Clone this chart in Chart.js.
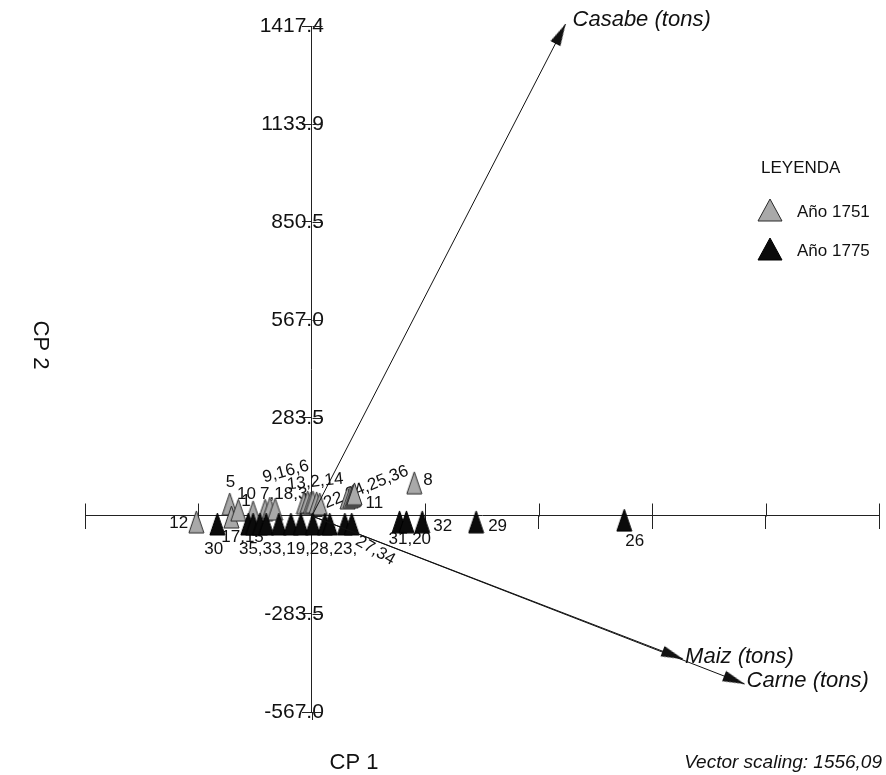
<!DOCTYPE html>
<html>
<head>
<meta charset="utf-8">
<script src="https://cdn.jsdelivr.net/npm/chart.js@4.4.1/dist/chart.umd.min.js"></script>
<style>
  body { margin: 0; background: #fff; }
  #cp { display: block; }
</style>
</head>
<body>
<canvas id="cp" width="886" height="775" style="width:886px;height:775px"></canvas>
<script>
const FONT = '"Liberation Sans", Arial, Helvetica, sans-serif'

// CP 2 axis ticks (0 has no label)
const yTicks = [-567.0, -283.5, 0, 283.5, 567.0, 850.5, 1133.9, 1417.4]

// Año 1751
const ids1751 = ['12', '5', '', '1', '10', '7', '18', '3', '9', '16', '6', '13', '2', '14', '22', '24', '25', '36', '11', '8']
const x1751 = [-336, -239, -234, -214, -171, -136, -122, -107, -23, -12, -3, 3, 14, 23, 104, 113, 119, 122, 124, 298]
const y1751 = [-17, 35, -3, 17, 12, 17, 23, 20, 38, 41, 38, 41, 38, 35, 52, 55, 58, 61, 64, 96]

// Año 1775
const ids1775 = ['30', '17', '15', '35', '33', '19', '28', '23', '', '', '', '27', '34', '31', '20', '32', '29', '26']
const x1775 = [-275, -185, -171, -151, -133, -96, -61, -32, 3, 38, 52, 96, 116, 255, 275, 321, 478, 909]
const y1775 = [-23, -23, -23, -23, -23, -23, -23, -23, -23, -23, -23, -23, -23, -17, -17, -17, -17, -12]

// vectors
const vecNames = ['Casabe (tons)', 'Maiz (tons)', 'Carne (tons)']
const vecX = [738, 1080, 1259]
const vecY = [1423, -414, -486]

// where the point labels go (pixel offset from a point, rotation in degrees)
const labelPlaces = [
  { ds: 0, i: 0, text: '12', dx: -27, dy: 1, rot: 0 },
  { ds: 0, i: 1, text: '5', dx: -4, dy: -22, rot: 0 },
  { ds: 0, i: 3, text: '1', dx: 3, dy: -9, rot: 0 },
  { ds: 0, i: 4, text: '10', dx: -16, dy: -18, rot: 0 },
  { ds: 0, i: 5, text: '7,18,3', dx: -5, dy: -16, rot: 0 },
  { ds: 0, i: 8, text: '9,16,6', dx: -41, dy: -25, rot: -15 },
  { ds: 0, i: 11, text: '13,2,14', dx: -26, dy: -17, rot: -6 },
  { ds: 0, i: 14, text: '22,24,25,36', dx: -23, dy: 6, rot: -22 },
  { ds: 0, i: 18, text: '11', dx: 11, dy: 9, rot: 0 },
  { ds: 0, i: 19, text: '8', dx: 9, dy: -2, rot: 0 },
  { ds: 1, i: 0, text: '30', dx: -13, dy: 25, rot: 0 },
  { ds: 1, i: 1, text: '17,15', dx: -27, dy: 13, rot: 0 },
  { ds: 1, i: 3, text: '35,33,19,28,23,', dx: -21, dy: 25, rot: 0 },
  { ds: 1, i: 11, text: '27,34', dx: 12, dy: 16, rot: 30 },
  { ds: 1, i: 13, text: '31,20', dx: -11, dy: 17, rot: 0 },
  { ds: 1, i: 15, text: '32', dx: 11, dy: 4, rot: 0 },
  { ds: 1, i: 16, text: '29', dx: 12, dy: 4, rot: 0 },
  { ds: 1, i: 17, text: '26', dx: 1, dy: 21, rot: 0 }
]

function triangleImage(w, h, fill, stroke) {
  const c = document.createElement('canvas')
  c.width = w + 2
  c.height = h + 2
  const g = c.getContext('2d')
  g.beginPath()
  g.moveTo(1 + w / 2, 1)
  g.lineTo(w + 1, h + 1)
  g.lineTo(1, h + 1)
  g.closePath()
  g.fillStyle = fill
  g.fill()
  g.strokeStyle = stroke
  g.lineWidth = 1
  g.stroke()
  return c
}

// arrow head with its tip in the middle of the image, pointing right
function arrowImage() {
  const c = document.createElement('canvas')
  c.width = 46
  c.height = 12
  const g = c.getContext('2d')
  g.beginPath()
  g.moveTo(23, 6)
  g.lineTo(1, 0.5)
  g.lineTo(1, 11.5)
  g.closePath()
  g.fillStyle = '#111'
  g.fill()
  return c
}

const GRAY = '#a9a9a9'
const BLACK = '#0b0b0b'
const grayTri = triangleImage(15, 22, GRAY, '#2a2a2a')
const blackTri = triangleImage(15, 22, BLACK, '#000')
const grayLeg = triangleImage(24, 22, GRAY, '#2a2a2a')
const blackLeg = triangleImage(24, 22, BLACK, '#000')
const arrowTip = arrowImage()

const toPoints = (xs, ys) => xs.map((x, i) => ({ x: x, y: ys[i] }))

const vectorSets = vecNames.map((name, i) => ({
  label: name,
  data: [{ x: 0, y: 0 }, { x: vecX[i], y: vecY[i] }],
  showLine: true,
  borderColor: '#111',
  borderWidth: 1,
  pointRadius: [0, 5],
  pointStyle: arrowTip,
  pointRotation: ctx => {
    const xs = ctx.chart.scales.x
    const ys = ctx.chart.scales.y
    if (!xs || !ys) return 0
    const dx = xs.getPixelForValue(vecX[i]) - xs.getPixelForValue(0)
    const dy = ys.getPixelForValue(vecY[i]) - ys.getPixelForValue(0)
    return Math.atan2(dy, dx) * 180 / Math.PI
  },
  clip: false,
  order: -1
}))

function text(ctx, str, x, y, font, align, rot) {
  ctx.save()
  ctx.translate(x, y)
  if (rot) ctx.rotate(rot * Math.PI / 180)
  ctx.font = font
  ctx.fillStyle = '#111'
  ctx.textAlign = align || 'left'
  ctx.textBaseline = 'middle'
  ctx.fillText(str, 0, 0)
  ctx.restore()
}

const crossTicks = {
  id: 'crossTicks',
  beforeDatasetsDraw(chart) {
    const { ctx, scales: { x, y } } = chart
    const x0 = Math.round(x.getPixelForValue(0)) + 0.5
    const y0 = Math.round(y.getPixelForValue(0)) + 0.5
    ctx.save()
    ctx.strokeStyle = '#222'
    ctx.lineWidth = 1
    ctx.beginPath()
    x.ticks.forEach(t => {
      const px = Math.round(x.getPixelForValue(t.value)) + 0.5
      ctx.moveTo(px, y0 - 13)
      ctx.lineTo(px, y0)
    })
    y.ticks.forEach(t => {
      const py = Math.round(y.getPixelForValue(t.value)) + 0.5
      ctx.moveTo(x0, py)
      ctx.lineTo(x0 + 10, py)
    })
    // the CP 2 axis runs a little past its last tick
    ctx.moveTo(x0, chart.chartArea.bottom)
    ctx.lineTo(x0, chart.chartArea.bottom + 8)
    ctx.stroke()
    ctx.restore()

    // point labels sit under the triangles
    labelPlaces.forEach(l => {
      const p = chart.getDatasetMeta(l.ds).data[l.i]
      text(ctx, l.text, p.x + l.dx, p.y + l.dy, '17px ' + FONT, 'left', l.rot)
    })
  }
}

const annotations = {
  id: 'annotations',
  afterDraw(chart) {
    const ctx = chart.ctx
    // vector names next to the arrow heads
    const offs = [[7, -4], [2, -2], [2, -3]]
    vecNames.forEach((name, i) => {
      const p = chart.getDatasetMeta(2 + i).data[1]
      text(ctx, name, p.x + offs[i][0], p.y + offs[i][1], 'italic 22px ' + FONT, 'left')
    })
    // axis titles
    text(ctx, 'CP 1', 354, 763, '22px ' + FONT, 'center')
    text(ctx, 'CP 2', 40, 345, '22px ' + FONT, 'center', 90)
    text(ctx, 'Vector scaling: 1556,09', 882, 763, 'italic 19px ' + FONT, 'right')
    // legend
    text(ctx, 'LEYENDA', 761, 168, '17px ' + FONT, 'left')
    const items = [[grayLeg, chart.data.datasets[0].label, 210], [blackLeg, chart.data.datasets[1].label, 249]]
    items.forEach(([img, lab, yy]) => {
      ctx.drawImage(img, 770 - img.width / 2, yy - img.height / 2)
      text(ctx, lab, 797, yy + 2, '17px ' + FONT, 'left')
    })
  }
}

const setYTicks = scale => { scale.ticks = yTicks.map(v => ({ value: v })) }

Chart.defaults.font.family = FONT

new Chart(document.getElementById('cp'), {
  type: 'scatter',
  data: {
    datasets: [
      {
        label: 'Año 1751',
        data: toPoints(x1751, y1751),
        pointStyle: grayTri,
        pointRadius: 6,
        order: 1
      },
      {
        label: 'Año 1775',
        data: toPoints(x1775, y1775),
        pointStyle: blackTri,
        pointRadius: 6,
        order: 0
      },
      ...vectorSets
    ]
  },
  options: {
    responsive: false,
    animation: false,
    events: [],
    layout: { padding: { left: 85, right: 3, top: 26, bottom: 63 } },
    scales: {
      x: {
        type: 'linear',
        min: -660,
        max: 1650,
        position: { y: 0 },
        ticks: { display: false, stepSize: 330 },
        grid: { drawOnChartArea: false, drawTicks: true, tickLength: 13, color: '#222' },
        border: { display: true, color: '#222', width: 1 }
      },
      y: {
        type: 'linear',
        min: -567,
        max: 1417.4,
        position: { x: 0 },
        afterBuildTicks: setYTicks,
        ticks: { display: false },
        grid: { drawOnChartArea: false, drawTicks: true, tickLength: 9, color: '#222' },
        border: { display: true, color: '#222', width: 1 }
      },
      yLab: {
        type: 'linear',
        min: -567,
        max: 1417.4,
        position: { x: 35 },
        afterBuildTicks: setYTicks,
        ticks: {
          autoSkip: false,
          color: '#111',
          font: { size: 21 },
          callback: v => v === 0 ? '' : v.toFixed(1)
        },
        grid: { display: false },
        border: { display: false }
      }
    },
    plugins: {
      legend: { display: false },
      tooltip: { enabled: false }
    }
  },
  plugins: [crossTicks, annotations]
})
</script>
</body>
</html>
